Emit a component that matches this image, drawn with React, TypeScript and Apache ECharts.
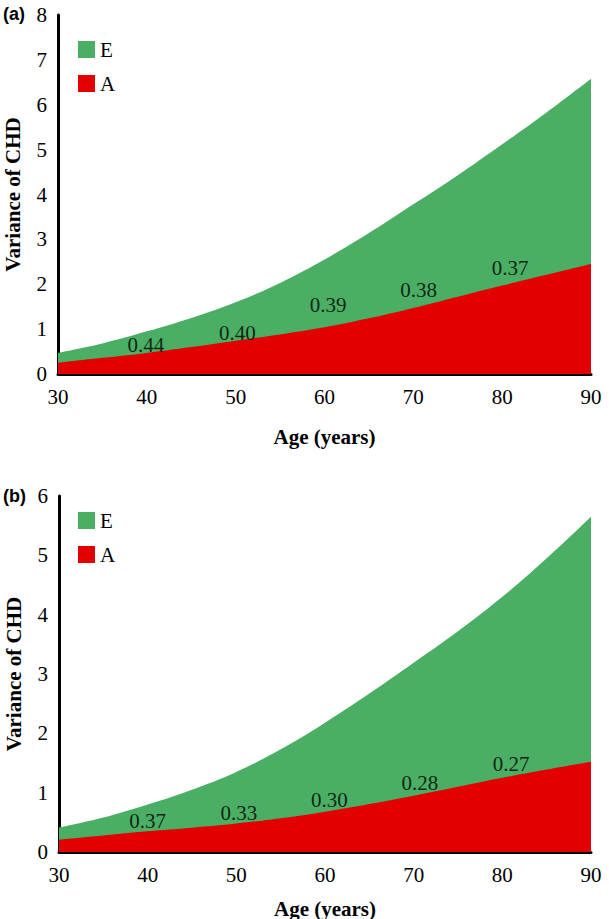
import React, { useEffect, useRef } from "react";
import * as echarts from "echarts";

const ages = [30, 35, 40, 45, 50, 55, 60, 65, 70, 75, 80, 85, 90];

// Panel (a): A component and total variance (A + E)
const panelA_A = [0.25, 0.36, 0.47, 0.6, 0.74, 0.88, 1.04, 1.24, 1.47, 1.72, 1.97, 2.21, 2.45];
const panelA_total = [0.47, 0.68, 0.95, 1.25, 1.6, 2.03, 2.55, 3.14, 3.78, 4.43, 5.12, 5.83, 6.58];
const panelA_labelAges = [39.9, 50.2, 60.4, 70.6, 80.9];
const panelA_labelY = [0.64, 0.92, 1.54, 1.87, 2.37];
const panelA_labels = ["0.44", "0.40", "0.39", "0.38", "0.37"];

// Panel (b): A component and total variance (A + E)
const panelB_A = [0.21, 0.28, 0.35, 0.41, 0.48, 0.57, 0.68, 0.81, 0.95, 1.1, 1.25, 1.39, 1.52];
const panelB_total = [0.41, 0.58, 0.8, 1.05, 1.35, 1.73, 2.18, 2.67, 3.19, 3.72, 4.3, 4.95, 5.65];
const panelB_labelAges = [40, 50.3, 60.5, 70.7, 81];
const panelB_labelY = [0.53, 0.66, 0.88, 1.17, 1.48];
const panelB_labels = ["0.37", "0.33", "0.30", "0.28", "0.27"];

const GREEN = "#4aae64";
const RED = "#e30000";
const SERIF = "'Liberation Serif', 'Times New Roman', serif";

function pairs(xs: number[], ys: number[]) {
  return xs.map((x, i) => [x, ys[i]]);
}

function axisX(gridIndex: number, nameGap: number) {
  return {
    type: "value",
    gridIndex,
    min: 30,
    max: 90,
    interval: 10,
    axisLine: { show: true, onZero: false, lineStyle: { color: "#000", width: 3 } },
    axisTick: { show: false },
    splitLine: { show: false },
    axisLabel: { fontFamily: SERIF, fontSize: 21, color: "#000", margin: 12 },
    name: "Age (years)",
    nameLocation: "middle",
    nameGap,
    nameTextStyle: { fontFamily: SERIF, fontSize: 21, fontWeight: "bold", color: "#000" },
  };
}

function axisY(gridIndex: number, max: number) {
  return {
    type: "value",
    gridIndex,
    min: 0,
    max,
    interval: 1,
    axisLine: { show: true, lineStyle: { color: "#000", width: 3 } },
    axisTick: { show: false },
    splitLine: { show: false },
    axisLabel: { fontFamily: SERIF, fontSize: 21, color: "#000", margin: 11 },
    name: "Variance of CHD",
    nameLocation: "middle",
    nameGap: 35,
    nameRotate: 90,
    nameTextStyle: { fontFamily: SERIF, fontSize: 21, fontWeight: "bold", color: "#000" },
  };
}

function areaSeries(name: string, idx: number, data: number[], color: string, z: number) {
  return {
    name,
    type: "line",
    xAxisIndex: idx,
    yAxisIndex: idx,
    smooth: 0.4,
    showSymbol: false,
    symbol: "none",
    z,
    lineStyle: { width: 0 },
    itemStyle: { color },
    areaStyle: { color, opacity: 1 },
    data: pairs(ages, data),
  };
}

function labelSeries(idx: number, xs: number[], ys: number[], texts: string[]) {
  return {
    type: "scatter",
    xAxisIndex: idx,
    yAxisIndex: idx,
    symbolSize: 1,
    itemStyle: { color: "rgba(0,0,0,0)" },
    silent: true,
    z: 10,
    label: {
      show: true,
      position: "inside",
      fontFamily: SERIF,
      fontSize: 21,
      color: "#000",
      formatter: (p: any) => texts[p.dataIndex],
    },
    data: pairs(xs, ys),
  };
}

function legend(top: number) {
  return {
    data: ["E", "A"],
    orient: "vertical",
    left: 73,
    top,
    icon: "rect",
    itemWidth: 17,
    itemHeight: 17,
    itemGap: 13,
    selectedMode: false,
    textStyle: { fontFamily: SERIF, fontSize: 21, color: "#000" },
  };
}

export default function App() {
  const ref = useRef<HTMLDivElement>(null);
  useEffect(() => {
    if (!ref.current) return;
    const chart = echarts.init(ref.current, undefined, { renderer: "svg" });
    chart.setOption({
      animation: false,
      backgroundColor: "#fff",
      textStyle: { fontFamily: SERIF, color: "#000" },
      grid: [
        { left: 58, top: 15, width: 533, height: 359, outerBoundsMode: "none", containLabel: false },
        { left: 59, top: 496, width: 532, height: 356, outerBoundsMode: "none", containLabel: false },
      ],
      xAxis: [axisX(0, 52), axisX(1, 46)],
      yAxis: [axisY(0, 8), axisY(1, 6)],
      legend: [legend(34), legend(505)],
      graphic: [
        {
          type: "text",
          left: 3,
          top: 5,
          style: { text: "(a)", font: "bold 18px 'Liberation Sans', Arial, sans-serif", fill: "#000" },
        },
        {
          type: "text",
          left: 3,
          top: 487,
          style: { text: "(b)", font: "bold 18px 'Liberation Sans', Arial, sans-serif", fill: "#000" },
        },
      ],
      series: [
        areaSeries("E", 0, panelA_total, GREEN, 2),
        areaSeries("A", 0, panelA_A, RED, 3),
        labelSeries(0, panelA_labelAges, panelA_labelY, panelA_labels),
        areaSeries("E", 1, panelB_total, GREEN, 2),
        areaSeries("A", 1, panelB_A, RED, 3),
        labelSeries(1, panelB_labelAges, panelB_labelY, panelB_labels),
      ],
    });
    return () => chart.dispose();
  }, []);
  return (
    <div
      ref={ref}
      style={{ position: "absolute", left: 0, top: 0, width: 609, height: 919, background: "#fff" }}
    />
  );
}
